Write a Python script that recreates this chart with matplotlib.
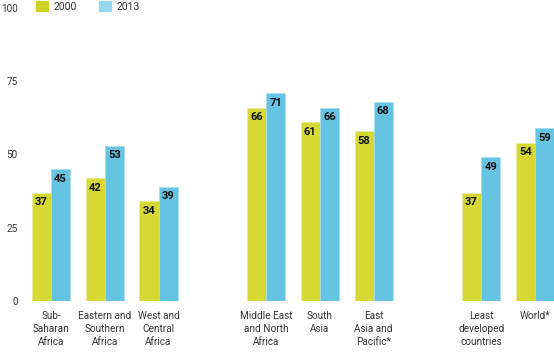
import numpy as np
import matplotlib.pyplot as plt
from matplotlib.patches import Patch

plt.rcParams['font.family'] = ['Roboto', 'DejaVu Sans']

regions = ['Sub-\nSaharan\nAfrica', 'Eastern and\nSouthern\nAfrica', 'West and\nCentral\nAfrica',
           'Middle East\nand North\nAfrica', 'South\nAsia', 'East\nAsia and\nPacific*',
           'Least\ndeveloped\ncountries', 'World*']
pos = np.array([0, 1, 2, 4, 5, 6, 8, 9])  # gaps between the three blocks
y2000 = [37, 42, 34, 66, 61, 58, 37, 54]
y2013 = [45, 53, 39, 71, 66, 68, 49, 59]

c2000 = '#d6d933'
c2013 = '#66c4e3'
w = 0.355

fig = plt.figure(figsize=(5.54, 3.56), dpi=100)
ax = fig.add_axes([22/554, 55/356, 532/554, 293/356])

b1 = ax.bar(pos - w/2, y2000, w, color=c2000, edgecolor='#e8eaa0', linewidth=0.5)
b2 = ax.bar(pos + w/2, y2013, w, color=c2013, edgecolor='#a8dcef', linewidth=0.5)

for bars in (b1, b2):
    for b in bars:
        h = b.get_height()
        ax.text(b.get_x() + b.get_width()/2, h - 3.3, str(int(h)), ha='center', va='center',
                fontsize=8, fontweight='bold', color='#111111')

for x, lab in zip(pos, regions):
    ax.text(x, -3.5, lab, ha='center', va='top', fontsize=7.2, color='#333333', linespacing=1.35)

ax.set_xlim(-29/53.76, 9 + w)
ax.set_ylim(0, 100)
ax.set_yticks([0, 25, 50, 75, 100])
ax.set_xticks([])
ax.tick_params(axis='y', length=0, labelsize=7.2, labelcolor='#333333', pad=3)
for s in ax.spines.values():
    s.set_visible(False)

handles = [Patch(color='#cfd22b', label='2000'), Patch(color='#95d8ee', label='2013')]
fig.legend(handles=handles, loc='upper left', bbox_to_anchor=(36/554, 0.997), ncol=2, frameon=False,
           fontsize=7.5, handlelength=1.15, handleheight=1.15, handletextpad=0.5, columnspacing=2.2,
           borderpad=0, borderaxespad=0, labelcolor='#333333')

fig.savefig('out.png', dpi=100)
